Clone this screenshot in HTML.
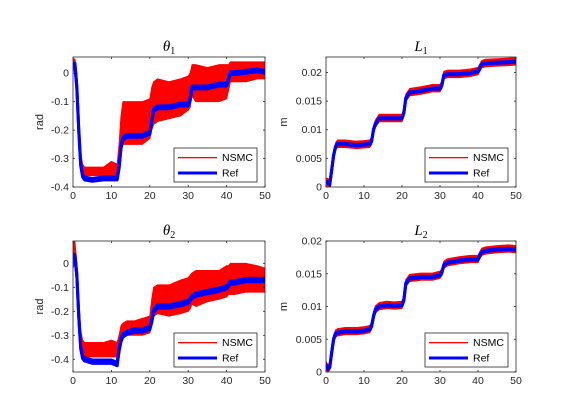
<!DOCTYPE html>
<html><head><meta charset="utf-8">
<style>
body{margin:0;background:#fff;}
svg{display:block;font-family:"Liberation Sans",sans-serif;}
</style></head>
<body>
<svg id="fig" width="570" height="413" viewBox="0 0 570 413"></svg>
<script>
const times=[0,0.5,1,1.5,2,2.5,3,5,8,10,11.5,12,12.5,13,14,16,18,20,20.5,21,22,25,28,30,30.5,31,32,35,38,40,40.5,41,42,45,48,50];
const xTicks=[0,10,20,30,40,50];
// theta1
const th1Upper=[0.05,0.05,0.0,-0.15,-0.28,-0.32,-0.33,-0.33,-0.33,-0.31,-0.32,-0.25,-0.15,-0.1,-0.1,-0.1,-0.1,-0.09,-0.05,-0.03,-0.02,-0.03,-0.02,-0.01,0.0,0.03,0.03,0.02,0.03,0.03,0.03,0.04,0.04,0.04,0.04,0.04];
const th1Lower=[0.02,0.0,-0.1,-0.25,-0.33,-0.36,-0.36,-0.36,-0.36,-0.36,-0.36,-0.33,-0.26,-0.25,-0.25,-0.25,-0.25,-0.23,-0.2,-0.18,-0.17,-0.16,-0.15,-0.13,-0.12,-0.08,-0.1,-0.1,-0.1,-0.09,-0.06,-0.03,-0.03,-0.03,-0.02,-0.02];
const th1Ref=[0.03,0.03,-0.05,-0.2,-0.32,-0.36,-0.37,-0.375,-0.37,-0.37,-0.37,-0.33,-0.26,-0.23,-0.22,-0.22,-0.22,-0.21,-0.17,-0.13,-0.12,-0.12,-0.11,-0.11,-0.09,-0.05,-0.05,-0.05,-0.04,-0.04,-0.02,0,0,0.005,0.01,0.005];
const thTicks=[-0.4,-0.3,-0.2,-0.1,0];
// theta2
const th2Upper=[0.09,0.09,0,-0.15,-0.28,-0.32,-0.33,-0.33,-0.33,-0.32,-0.33,-0.3,-0.26,-0.25,-0.24,-0.24,-0.23,-0.22,-0.15,-0.1,-0.09,-0.09,-0.07,-0.06,-0.05,-0.04,-0.03,-0.03,-0.03,-0.01,-0.01,0,0,0,-0.01,-0.02];
const th2Lower=[-0.02,0,-0.1,-0.27,-0.36,-0.38,-0.39,-0.39,-0.39,-0.39,-0.39,-0.37,-0.33,-0.31,-0.3,-0.3,-0.3,-0.29,-0.26,-0.22,-0.21,-0.22,-0.21,-0.2,-0.19,-0.17,-0.18,-0.16,-0.15,-0.14,-0.13,-0.13,-0.13,-0.12,-0.12,-0.12];
const th2Ref=[0.03,0.03,-0.05,-0.22,-0.35,-0.39,-0.4,-0.41,-0.41,-0.41,-0.42,-0.36,-0.32,-0.3,-0.29,-0.28,-0.28,-0.27,-0.24,-0.2,-0.18,-0.18,-0.17,-0.16,-0.15,-0.14,-0.13,-0.12,-0.11,-0.1,-0.09,-0.08,-0.08,-0.07,-0.07,-0.07];
// L1, L2
const l1Ref=[0.0008,0.0008,0.0005,0.003,0.0055,0.007,0.0075,0.0075,0.0073,0.0074,0.0075,0.008,0.01,0.011,0.012,0.012,0.012,0.012,0.013,0.0155,0.0165,0.0168,0.0172,0.0172,0.0178,0.0195,0.0197,0.0197,0.0199,0.0202,0.0208,0.0214,0.0216,0.0217,0.0218,0.0219];
const l2Ref=[0.001,0.0005,0.0008,0.003,0.005,0.0058,0.006,0.0062,0.0062,0.0063,0.0065,0.007,0.0085,0.0095,0.01,0.0102,0.0101,0.0102,0.011,0.0135,0.0143,0.0145,0.0145,0.0148,0.0152,0.0163,0.0167,0.017,0.0172,0.0172,0.0178,0.0183,0.0185,0.0187,0.0188,0.0187];
const lTicks=[0,0.005,0.01,0.015,0.02];
const lTickLabels=["0","0.005","0.01","0.015","0.02"];

const NS="http://www.w3.org/2000/svg";
const fig=document.getElementById('fig');
function mk(tag,attrs,parent){const e=document.createElementNS(NS,tag);for(const k in attrs)e.setAttribute(k,attrs[k]);(parent||fig).appendChild(e);return e;}

const panels=[
 {name:'theta1',x0:73,x1:265,y0:57,y1:187,ymin:-0.4,ymax:0.057,up:th1Upper,lo:th1Lower,ref:th1Ref,refHalf:0.005,ticks:thTicks,labels:["-0.4","-0.3","-0.2","-0.1","0"],ylab:'rad',t:'θ',sub:'1'},
 {name:'l1',x0:326,x1:516,y0:57,y1:187,ymin:0,ymax:0.0227,up:l1Ref.map(v=>v+0.0007),lo:l1Ref.map(v=>v-0.0006),ref:l1Ref,refHalf:0.0001,ticks:lTicks,labels:lTickLabels,ylab:'m',t:'L',sub:'1'},
 {name:'theta2',x0:73,x1:265,y0:241,y1:372,ymin:-0.453,ymax:0.093,up:th2Upper,lo:th2Lower,ref:th2Ref,refHalf:0.007,ticks:thTicks,labels:["-0.4","-0.3","-0.2","-0.1","0"],ylab:'rad',t:'θ',sub:'2'},
 {name:'l2',x0:326,x1:516,y0:241,y1:372,ymin:0,ymax:0.02,up:l2Ref.map(v=>v+0.0006),lo:l2Ref.map(v=>v-0.0005),ref:l2Ref,refHalf:0.0001,ticks:lTicks,labels:lTickLabels,ylab:'m',t:'L',sub:'2'}
];

panels.forEach(p=>{
 const g=mk('g',{});
 
 
 const sx=v=>p.x0+(v-0)/(50-0)*(p.x1-p.x0);
 const sy=v=>p.y1-(v-p.ymin)/(p.ymax-p.ymin)*(p.y1-p.y0);
 const cid='clip-'+p.name;
 const cp=mk('clipPath',{id:cid},g);mk('rect',{x:p.x0,y:p.y0,width:p.x1-p.x0,height:p.y1-p.y0},cp);
 const dg=mk('g',{'clip-path':'url(#'+cid+')'},g);
 let pts=times.map((t,i)=>sx(t)+','+sy(p.up[i]));
 pts=pts.concat(times.slice().reverse().map((t,j)=>{const i=times.length-1-j;return sx(t)+','+sy(p.lo[i]);}));
 const nb=mk('polygon',{points:pts.join(' '),fill:'#ff0000',stroke:'#ff0000','stroke-width':1,'stroke-linejoin':'round'},dg);
 
 
 let rp=times.map((t,i)=>sx(t)+','+sy(p.ref[i]+p.refHalf));
 rp=rp.concat(times.slice().reverse().map((t,j)=>{const i=times.length-1-j;return sx(t)+','+sy(p.ref[i]-p.refHalf);}));
 mk('polygon',{points:rp.join(' '),fill:'#0000ff',stroke:'#0000ff','stroke-width':3,'stroke-linejoin':'round'},dg);
 const rl=mk('polyline',{points:times.map((t,i)=>sx(t)+','+sy(p.ref[i])).join(' '),fill:'none',stroke:'#0000ff','stroke-width':3},dg);
 
 
 mk('rect',{x:p.x0,y:p.y0,width:p.x1-p.x0,height:p.y1-p.y0,fill:'none',stroke:'#262626','stroke-width':0.8},g);
 xTicks.forEach(v=>{
  const x=sx(v);
  mk('line',{x1:x,x2:x,y1:p.y1,y2:p.y1-2,stroke:'#262626','stroke-width':0.8},g);
  mk('line',{x1:x,x2:x,y1:p.y0,y2:p.y0+2,stroke:'#262626','stroke-width':0.8},g);
  const tx=mk('text',{x:x,y:p.y1+12,'font-size':10.5,fill:'#262626','text-anchor':'middle'},g);
  tx.textContent=v;
  
  
 });
 p.ticks.forEach((v,i)=>{
  const y=sy(v);
  mk('line',{x1:p.x0,x2:p.x0+2,y1:y,y2:y,stroke:'#262626','stroke-width':0.8},g);
  mk('line',{x1:p.x1,x2:p.x1-2,y1:y,y2:y,stroke:'#262626','stroke-width':0.8},g);
  const tx=mk('text',{x:p.x0-4,y:y+3.5,'font-size':10.5,fill:'#262626','text-anchor':'end'},g);
  tx.textContent=p.labels[i];
  
  
 });
 const lx=p.name.startsWith('theta')?p.x0-30:p.x0-39;
 const yl=mk('text',{x:lx,y:(p.y0+p.y1)/2,'font-size':11,fill:'#262626','text-anchor':'middle',transform:'rotate(-90 '+lx+' '+(p.y0+p.y1)/2+')'},g);
 yl.textContent=p.ylab;
 
 
 const tt=mk('text',{x:(p.x0+p.x1)/2,y:p.y0-6,'font-size':15,'font-style':'italic','font-family':'Liberation Serif, serif',fill:'#000','text-anchor':'middle'},g);
 tt.textContent=p.t;
 const ts=mk('tspan',{'font-size':10,'font-style':'normal',dy:3},tt);
 ts.textContent=p.sub;
 
 
 const lg=mk('g',{},g);
 
 
 const bx=p.x1-91,by=p.y1-39;
 mk('rect',{x:bx,y:by,width:83,height:34,fill:'#fff',stroke:'#262626','stroke-width':0.8},lg);
 mk('rect',{x:bx+4,y:by+9,width:39,height:1.3,fill:'#ff0000'},lg);
 const t1=mk('text',{x:bx+48,y:by+13,'font-size':10.5,fill:'#000'},lg);t1.textContent='NSMC';
 
 
 mk('line',{x1:bx+4,x2:bx+43,y1:by+25,y2:by+25,stroke:'#0000ff','stroke-width':3},lg);
 const t2=mk('text',{x:bx+48,y:by+28.5,'font-size':10.5,fill:'#000'},lg);t2.textContent='Ref';
 
 
});
</script>
</body></html>
